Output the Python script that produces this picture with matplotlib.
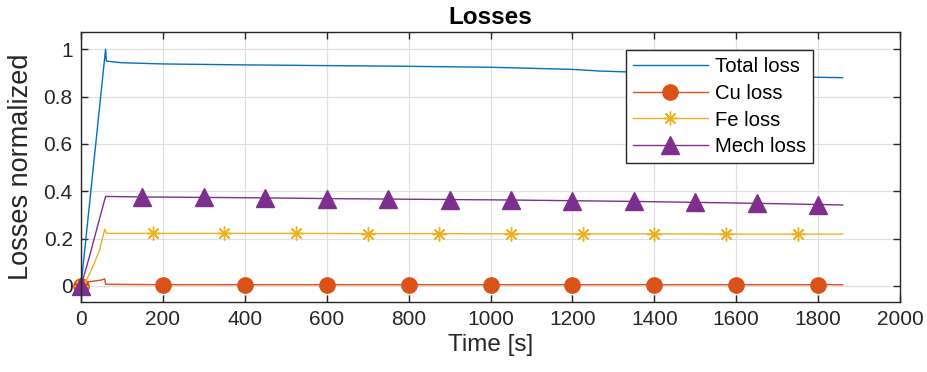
import numpy as np
import matplotlib
matplotlib.use("Agg")
import matplotlib.pyplot as plt

plt.rcParams['font.family'] = ['Liberation Sans', 'DejaVu Sans']

# Loss traces over time (normalized to peak total loss)
total_t = [0, 60, 62, 100, 200, 400, 600, 800, 1000, 1200, 1267, 1500, 1787, 1860]
total_v = [0, 1.0, 0.950, 0.943, 0.938, 0.934, 0.931, 0.928, 0.924, 0.915, 0.908, 0.895, 0.882, 0.880]

cu_t = [0, 5, 10, 30, 50, 58, 60, 200, 400, 600, 800, 1000, 1200, 1400, 1600, 1800, 1860]
cu_v = [0, 0.010, 0.015, 0.020, 0.025, 0.030, 0.007, 0.005, 0.005, 0.005, 0.005,
        0.005, 0.005, 0.005, 0.005, 0.005, 0.005]

fe_t = [0, 15, 30, 45, 58, 62, 175, 350, 525, 700, 875, 1050, 1225, 1400, 1575, 1750, 1860]
fe_v = [0, 0.030, 0.085, 0.150, 0.240, 0.222, 0.222, 0.222, 0.222, 0.221, 0.221,
        0.220, 0.220, 0.220, 0.219, 0.219, 0.219]

mech_t = [0, 20, 40, 60, 150, 300, 450, 600, 750, 900, 1050, 1200, 1350, 1500, 1650, 1800, 1860]
mech_v = [0, 0.120, 0.250, 0.378, 0.376, 0.374, 0.372, 0.369, 0.367, 0.365, 0.363,
          0.360, 0.357, 0.353, 0.349, 0.344, 0.342]

# Marker positions along each trace
cu_marks = [0, 200, 400, 600, 800, 1000, 1200, 1400, 1600, 1800]
fe_marks = [0, 175, 350, 525, 700, 875, 1050, 1225, 1400, 1575, 1750]
mech_marks = [0, 150, 300, 450, 600, 750, 900, 1050, 1200, 1350, 1500, 1650, 1800]

labels = ['Total loss', 'Cu loss', 'Fe loss', 'Mech loss']
colors = ['#0072BD', '#D95319', '#EDB120', '#7E2F8E']
x_ticks = [0, 200, 400, 600, 800, 1000, 1200, 1400, 1600, 1800, 2000]
y_ticks = [0, 0.2, 0.4, 0.6, 0.8, 1.0]
y_ticklabels = ['0', '0.2', '0.4', '0.6', '0.8', '1']


def mark_idx(t, marks):
    return [i for i, v in enumerate(t) if v in marks]


fig = plt.figure(figsize=(9.27, 3.72), dpi=100)
ax = fig.add_axes([81 / 927, 70 / 372, 819 / 927, 270 / 372])

ax.plot(total_t, total_v, color=colors[0], lw=1.0, label=labels[0])
ax.plot(cu_t, cu_v, color=colors[1], lw=1.0, marker='o', markersize=11,
        markevery=mark_idx(cu_t, cu_marks), label=labels[1], clip_on=False)
ax.plot(fe_t, fe_v, color=colors[2], lw=1.0, marker=(8, 2, 0), markersize=10,
        markeredgewidth=1.0, markevery=mark_idx(fe_t, fe_marks), label=labels[2],
        clip_on=False)
ax.plot(mech_t, mech_v, color=colors[3], lw=1.0, marker='^', markersize=13,
        markevery=mark_idx(mech_t, mech_marks), label=labels[3], clip_on=False)

ax.set_xlim(0, 2000)
ax.set_ylim(-0.068, 1.073)
ax.set_xticks(x_ticks)
ax.set_yticks(y_ticks)
ax.set_yticklabels(y_ticklabels)

ax.grid(True, color='#e0e0e0', lw=0.9)
ax.set_axisbelow(True)
ax.tick_params(direction='in', length=5, width=1, top=True, right=True,
               labelsize=15, colors='#262626', pad=6)
for s in ax.spines.values():
    s.set_color('#262626')
    s.set_linewidth(1.0)

ax.set_xlabel('Time [s]', fontsize=17.5, color='#262626', labelpad=3)
ax.set_ylabel('Losses normalized', fontsize=19.5, color='#262626', labelpad=7)
ax.set_title('Losses', fontsize=17.5, fontweight='bold', color='#000000', pad=6)

leg = ax.legend(loc='upper right', bbox_to_anchor=((813 - 81) / 819, (302 - 50) / 270),
                fontsize=14.6, frameon=True, fancybox=False, handlelength=3.7,
                handletextpad=0.35, borderpad=0.35, labelspacing=0.38,
                borderaxespad=0, numpoints=1)
leg.get_frame().set_edgecolor('#262626')
leg.get_frame().set_linewidth(1.0)
leg.get_frame().set_alpha(1)

fig.savefig('out.png', dpi=100)
